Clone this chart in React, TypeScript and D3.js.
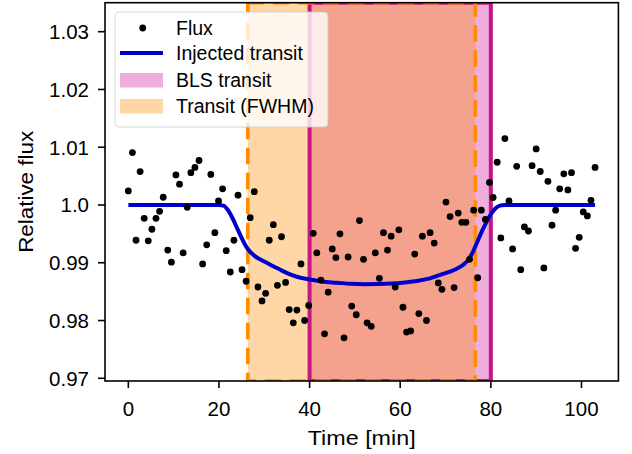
import React from "react";
import * as d3 from "d3";

const fluxTime = [0.0,0.9,1.7,2.6,3.5,4.4,5.2,6.1,6.9,7.7,8.7,9.5,10.5,11.3,12.1,13.0,13.8,14.7,15.6,16.4,17.3,18.2,19.1,19.9,20.8,21.6,22.5,23.3,24.2,25.1,26.0,26.9,27.8,28.6,29.5,30.3,31.1,32.0,32.9,33.8,34.7,35.5,36.4,37.2,38.1,38.9,39.8,40.8,41.6,42.5,43.3,44.1,45.0,45.8,46.7,47.6,48.5,49.3,50.3,51.0,51.9,52.7,53.6,54.5,55.4,56.3,57.2,58.0,58.9,59.7,60.6,61.4,62.3,63.2,64.1,64.9,65.8,66.6,67.5,68.4,69.2,70.1,71.0,71.9,72.8,73.6,74.5,75.3,76.2,77.1,77.9,78.8,79.7,80.5,81.4,82.2,83.1,84.0,84.8,85.7,86.6,87.4,88.3,89.1,90.0,90.9,91.7,92.6,93.5,94.3,95.2,96.1,97.0,97.8,98.7,99.5,100.4,101.3,102.1,103.0];
const fluxValue = [1.00243,1.00908,0.9939,1.00578,0.9977,0.9938,0.9958,0.9977,0.9989,1.00134,0.9922,0.9901,1.0052,1.0036,0.9917,0.9996,1.0056,1.0065,1.0077,0.9898,0.9931,1.0053,0.9952,1.0007,1.0028,0.9921,0.9884,0.9939,1.0017,0.9888,0.9868,0.9978,1.0023,0.9858,0.9834,0.9847,0.9939,0.9966,0.9861,0.9945,0.9866,0.9819,0.9796,0.9818,0.9898,0.98,0.9826,0.9951,0.9917,0.987,0.9777,0.9849,0.9924,0.9909,0.995,0.977,0.991,0.9825,0.981,0.9973,0.9906,0.9796,0.979,0.9917,0.9873,0.9952,0.9922,0.9946,0.9858,0.9957,0.9823,0.978,0.9782,0.9915,0.9812,0.9946,0.98,0.9952,0.9934,0.9865,0.9854,1.0005,0.998,0.9857,0.9986,0.997,0.997,0.9906,0.9991,0.9874,0.9991,0.9975,1.0039,1.0013,1.0074,0.9943,1.0115,1.0007,0.9924,1.0067,0.9888,0.9962,0.9955,1.0068,1.0097,1.0058,0.9891,1.0041,0.9965,0.9991,1.0028,1.0054,1.0026,1.0056,0.9925,0.9944,0.9988,0.9981,1.0008,1.0065];

const modelTime = [0,20,21,22,23,24,25,26,27,28,30,32,34,36,38,40,43,46,49,52,55,58,61,64,66,68,70,72,74,75,76,77,78,79,80,81,82,83,103];
const modelValue = [1.0,1.0,0.9999,0.9991,0.9977,0.996,0.9943,0.9928,0.9918,0.9911,0.9902,0.9894,0.9886,0.9879,0.9874,0.9871,0.9867,0.98655,0.98637,0.9863,0.98632,0.9864,0.9866,0.9869,0.9872,0.9877,0.9882,0.9888,0.9897,0.9905,0.9918,0.9936,0.9954,0.997,0.9984,0.9994,0.9999,1.0,1.0];

const blsWindow = [40, 80];
const fwhmWindow = [26.36, 76.57];

const xTicks = [0, 20, 40, 60, 80, 100];
const yTicks = [0.97, 0.98, 0.99, 1.0, 1.01, 1.02, 1.03];
const yTickLabels = ["0.97", "0.98", "0.99", "1.0", "1.01", "1.02", "1.03"];
const legendLabels = ["Flux", "Injected transit", "BLS transit", "Transit (FWHM)"];

const W = 632, H = 454;
const L = 105, R = 618.4, T = 2.7, B = 381;
const FONT = "'Liberation Sans', Arial, sans-serif";

export default function App() {
  const x = d3.scaleLinear().domain([-5.15, 108.15]).range([L, R]);
  const y = d3.scaleLinear().domain([0.96953, 1.03502]).range([B, T]);
  const line = d3
    .line<number>()
    .x((_, i) => x(modelTime[i]))
    .y((d) => y(d))
    .curve(d3.curveMonotoneX);
  const modelPath = line(modelValue) || "";

  const bx0 = x(blsWindow[0]), bx1 = x(blsWindow[1]);
  const fx0 = x(fwhmWindow[0]), fx1 = x(fwhmWindow[1]);
  const magenta = "#c71585";
  const orange = "#ff8c00";
  const fs = 19.5;
  const tfs = 20.5;

  return (
    <svg width={W} height={H} style={{ position: "absolute", left: 0, top: 0, background: "#fff" }} fontFamily={FONT}>
      <defs>
        <clipPath id="ax">
          <rect x={L} y={T} width={R - L} height={B - T} />
        </clipPath>
      </defs>
      <g clipPath="url(#ax)">
        <rect x={bx0} y={T} width={bx1 - bx0} height={B - T} fill="#e377c2" opacity={0.6} />
        <rect x={fx0} y={T} width={fx1 - fx0} height={B - T} fill={orange} opacity={0.35} />
        <rect x={bx0} y={T} width={bx1 - bx0} height={B - T} fill="none" stroke={magenta} strokeWidth={4} />
        <rect x={fx0} y={T} width={fx1 - fx0} height={B - T} fill="none" stroke={orange} strokeWidth={3.6} strokeDasharray="16.5 8.5" />
        <path d={modelPath} fill="none" stroke="#0000cd" strokeWidth={4} />
        {fluxValue.map((v, i) => (
          <circle key={i} cx={x(fluxTime[i])} cy={y(v)} r={3.4} fill="#000" />
        ))}
      </g>
      <rect x={L} y={T} width={R - L} height={B - T} fill="none" stroke="#000" strokeWidth={1.6} />
      {xTicks.map((t) => (
        <g key={t}>
          <line x1={x(t)} x2={x(t)} y1={B} y2={B + 7} stroke="#000" strokeWidth={1.6} />
          <text x={x(t)} y={B + 35} textAnchor="middle" fontSize={tfs} fill="#000">{t}</text>
        </g>
      ))}
      {yTicks.map((t, i) => (
        <g key={t}>
          <line x1={L - 7} x2={L} y1={y(t)} y2={y(t)} stroke="#000" strokeWidth={1.6} />
          <text x={L - 16} y={y(t) + 7.5} textAnchor="end" fontSize={tfs} fill="#000">{yTickLabels[i]}</text>
        </g>
      ))}
      <text x={(L + R) / 2} y={445} textAnchor="middle" fontSize={tfs} fill="#000" textLength={108} lengthAdjust="spacingAndGlyphs">Time [min]</text>
      <text transform={`translate(33,${(T + B) / 2}) rotate(-90)`} textAnchor="middle" fontSize={tfs} fill="#000" textLength={122} lengthAdjust="spacingAndGlyphs">Relative flux</text>

      <g>
        <rect x={115} y={12} width={213} height={115} rx={4} fill="#fff" fillOpacity={0.8} stroke="#ccc" strokeOpacity={0.8} strokeWidth={1} />
        <circle cx={142.7} cy={28} r={3.4} fill="#000" />
        <line x1={120} x2={163} y1={53} y2={53} stroke="#0000cd" strokeWidth={4} />
        <rect x={120} y={73} width={43} height={14.5} fill="#e377c2" opacity={0.6} />
        <rect x={120} y={99} width={43} height={14.5} fill={orange} opacity={0.35} />
        {legendLabels.map((s, i) => (
          <text key={s} x={176} y={[35, 60, 87, 113][i]} fontSize={fs} fill="#000">{s}</text>
        ))}
      </g>
    </svg>
  );
}
